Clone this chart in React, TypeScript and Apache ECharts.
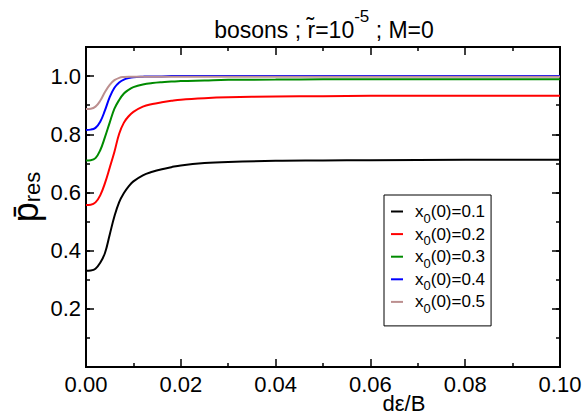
import React, { useEffect, useRef } from 'react';
import * as echarts from 'echarts';

const xValues = [0, 0.001, 0.002, 0.003, 0.004, 0.005, 0.006, 0.007, 0.008, 0.009, 0.010, 0.012, 0.014, 0.016, 0.018, 0.020, 0.025, 0.030, 0.040, 0.050, 0.060, 0.080, 0.100];

const seriesNames = ['x0(0)=0.1', 'x0(0)=0.2', 'x0(0)=0.3', 'x0(0)=0.4', 'x0(0)=0.5'];
const seriesColors = ['#000000', '#ff0000', '#008b00', '#0000ff', '#bc8f8f'];

const s01 = [0.331, 0.332, 0.338, 0.358, 0.392, 0.455, 0.518, 0.567, 0.598, 0.621, 0.638, 0.659, 0.671, 0.680, 0.687, 0.693, 0.701, 0.705, 0.709, 0.710, 0.711, 0.712, 0.712];
const s02 = [0.557, 0.558, 0.566, 0.590, 0.632, 0.685, 0.740, 0.802, 0.840, 0.862, 0.877, 0.895, 0.904, 0.910, 0.915, 0.919, 0.924, 0.927, 0.930, 0.931, 0.932, 0.932, 0.932];
const s03 = [0.710, 0.711, 0.718, 0.745, 0.790, 0.840, 0.888, 0.918, 0.940, 0.953, 0.962, 0.971, 0.976, 0.979, 0.981, 0.983, 0.985, 0.987, 0.988, 0.989, 0.989, 0.989, 0.989];
const s04 = [0.815, 0.816, 0.822, 0.843, 0.882, 0.928, 0.960, 0.978, 0.988, 0.993, 0.996, 0.998, 0.999, 0.999, 1.000, 1.000, 1.000, 1.000, 1.000, 1.000, 1.000, 1.000, 1.000];
const s05 = [0.887, 0.888, 0.895, 0.915, 0.945, 0.970, 0.986, 0.994, 0.997, 0.998, 0.998, 0.998, 0.998, 0.998, 0.998, 0.998, 0.998, 0.998, 0.998, 0.998, 0.998, 0.998, 0.998];
const seriesValues = [s01, s02, s03, s04, s05];

const xTickInterval = 0.02;
const yTickInterval = 0.2;
const yMinorInterval = 0.1;

const FONT = '"Liberation Sans", Arial, Helvetica, sans-serif';

export default function App() {
  const ref = useRef<HTMLDivElement>(null);

  useEffect(() => {
    const chart = echarts.init(ref.current!, null, { renderer: 'svg' });
    const lineStyle = { color: '#000', width: 2 };
    const tickStyle = { color: '#000', width: 1.5 };

    const makeX = (position: string, labels: boolean) => ({
      type: 'value',
      position,
      min: 0,
      max: 0.1,
      interval: xTickInterval,
      axisLine: { show: true, onZero: false, lineStyle },
      axisTick: { show: true, inside: true, length: 8, lineStyle: tickStyle },
      minorTick: { show: true, splitNumber: 2, length: 4, lineStyle: tickStyle },
      axisLabel: labels
        ? { show: true, margin: 6, fontSize: 22, color: '#000', fontFamily: FONT, formatter: (v: number) => v.toFixed(2) }
        : { show: false },
      splitLine: { show: false },
      minorSplitLine: { show: false },
    });

    const makeY = (position: string, major: boolean, labels: boolean) => ({
      type: 'value',
      position,
      min: 0,
      max: 1.1,
      interval: major ? yTickInterval : yMinorInterval,
      axisLine: { show: true, onZero: false, lineStyle },
      axisTick: { show: true, inside: true, length: major ? 8 : 4, lineStyle: tickStyle },
      axisLabel: labels
        ? {
            show: true,
            margin: 5,
            fontSize: 22,
            color: '#000',
            fontFamily: FONT,
            formatter: (v: number) => (v > 0.05 && v < 1.05 ? v.toFixed(1) : ''),
          }
        : { show: false },
      splitLine: { show: false },
    });

    chart.setOption({
      animation: false,
      backgroundColor: '#fff',
      grid: { left: 86, right: 27, top: 47, bottom: 51, containLabel: false },
      xAxis: [makeX('bottom', true), makeX('top', false)],
      yAxis: [makeY('left', true, true), makeY('left', false, false), makeY('right', true, false), makeY('right', false, false)],
      legend: {
        show: true,
        orient: 'vertical',
        left: 384,
        top: 195,
        padding: [8, 6, 11, 7],
        itemGap: 1.1,
        itemWidth: 12,
        itemHeight: 2,
        icon: 'rect',
        borderColor: '#000',
        borderWidth: 1,
        backgroundColor: '#fff',
        data: seriesNames,
        formatter: (name: string) => `{x|x}{b|0}{a|${name.slice(2)}}`,
        textStyle: {
          color: '#000',
          fontFamily: FONT,
          rich: {
            x: { fontSize: 17, lineHeight: 26, fontFamily: FONT, color: '#000', padding: [0, 0, 0, 7] },
            a: { fontSize: 17, lineHeight: 26, fontFamily: FONT, color: '#000' },
            b: { fontSize: 13, verticalAlign: 'bottom', fontFamily: FONT, color: '#000' },
          },
        },
      },
      graphic: [
        {
          type: 'text',
          x: 324,
          y: 30,
          style: {
            text: '{a|bosons ; r\u0303=10}{s|-5}{a| ; M=0}',
            align: 'center',
            verticalAlign: 'middle',
            fill: '#000',
            rich: {
              a: { fontSize: 23, lineHeight: 45, fontFamily: FONT, fill: '#000' },
              s: { fontSize: 17, lineHeight: 12, verticalAlign: 'top', fontFamily: FONT, fill: '#000' },
            },
          },
        },
        {
          type: 'text',
          x: 404,
          y: 403,
          style: { text: 'd\u03b5/B', align: 'center', verticalAlign: 'middle', fontSize: 22, fontFamily: FONT, fill: '#000' },
        },
        {
          type: 'text',
          x: 25,
          y: 197,
          rotation: Math.PI / 2,
          style: {
            text: '{p|p\u0304}{s|res}',
            align: 'center',
            verticalAlign: 'middle',
            fill: '#000',
            rich: {
              p: { fontSize: 36, lineHeight: 36, fontFamily: FONT, fill: '#000' },
              s: { fontSize: 22, verticalAlign: 'bottom', fontFamily: FONT, fill: '#000' },
            },
          },
        },
      ],
      series: seriesNames.map((name, i) => ({
        name,
        type: 'line',
        xAxisIndex: 0,
        yAxisIndex: 0,
        smooth: 0.4,
        symbol: 'none',
        showSymbol: false,
        color: seriesColors[i],
        lineStyle: { color: seriesColors[i], width: 2 },
        data: xValues.map((x, j) => [x, seriesValues[i][j]]),
      })),
    });

    return () => chart.dispose();
  }, []);

  return <div ref={ref} style={{ position: 'fixed', left: 0, top: 0, width: 587, height: 418 }} />;
}
